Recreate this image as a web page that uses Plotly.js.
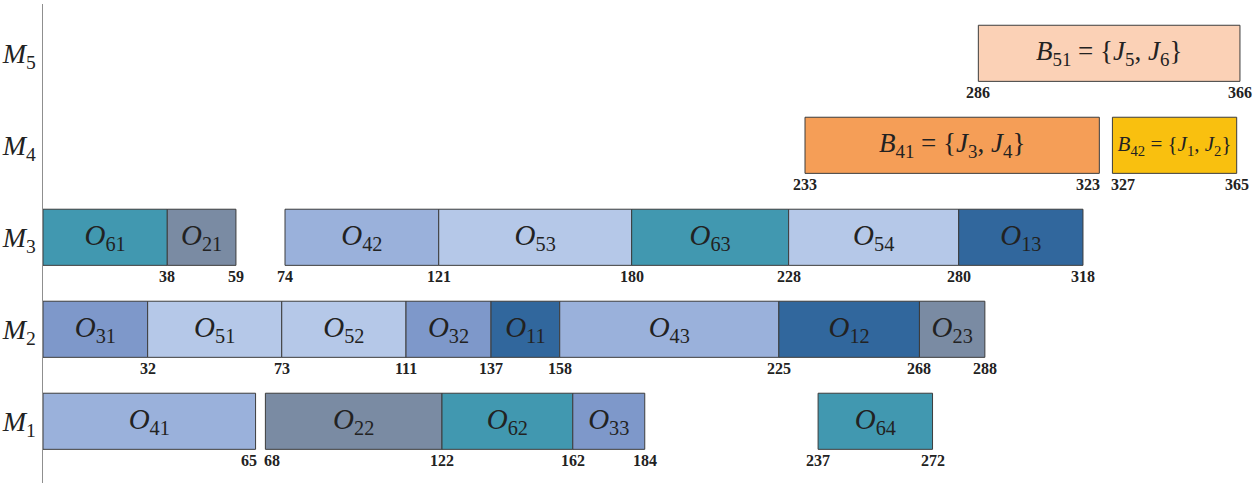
<!DOCTYPE html>
<html><head><meta charset="utf-8">
<script src="https://cdn.plot.ly/plotly-3.0.1.min.js"></script>
<style>html,body{margin:0;padding:0;background:#fff}#chart{width:1255px;height:486px}</style>
</head><body><div id="chart"></div>
<script>
const machines = [1, 2, 3, 4, 5];
const machineLabels = ['<i>M</i><sub>1</sub>', '<i>M</i><sub>2</sub>', '<i>M</i><sub>3</sub>', '<i>M</i><sub>4</sub>', '<i>M</i><sub>5</sub>'];

const opName    = ['41','22','62','33','64', '31','51','52','32','11','43','12','23', '61','21','42','53','63','54','13'];
const opMachine = [1,1,1,1,1, 2,2,2,2,2,2,2,2, 3,3,3,3,3,3,3];
const opStart   = [0,68,122,162,237, 0,32,73,111,137,158,225,268, 0,38,74,121,180,228,280];
const opEnd     = [65,122,162,184,272, 32,73,111,137,158,225,268,288, 38,59,121,180,228,280,318];

const batchName    = ['41', '42', '51'];
const batchMachine = [4, 4, 5];
const batchStart   = [233, 327, 286];
const batchEnd     = [323, 365, 366];
const batchJobs    = [[3, 4], [1, 2], [5, 6]];

const jobColors = {1: '#31679D', 2: '#7A8BA3', 3: '#7E98CA', 4: '#9AB1DB', 5: '#B5C8E8', 6: '#4198B0'};
const batchColors = ['#F59E57', '#F9C00F', '#FBD1B6'];
const batchFontSizes = [27, 21, 27];

const serif = 'Liberation Serif, Times New Roman, serif';
const BAR_W = 0.61;

const opTrace = {
  type: 'bar', orientation: 'h',
  y: opMachine,
  base: opStart,
  x: opStart.map((s, i) => opEnd[i] - s),
  width: BAR_W,
  marker: {color: opName.map(n => jobColors[+n[0]]), line: {color: '#3c3c3c', width: 1}},
  text: opName.map(n => '<i>O</i><sub>' + n + '</sub>'),
  textposition: 'inside', insidetextanchor: 'middle', constraintext: 'none', textangle: 0,
  textfont: {family: serif, size: 29, color: '#222'},
  hoverinfo: 'skip', showlegend: false, cliponaxis: false
};

const batchTrace = {
  type: 'bar', orientation: 'h',
  y: batchMachine,
  base: batchStart,
  x: batchStart.map((s, i) => batchEnd[i] - s),
  width: BAR_W,
  marker: {color: batchColors, line: {color: '#3c3c3c', width: 1}},
  text: batchName.map((n, i) => '<i>B</i><sub>' + n + '</sub> = {<i>J</i><sub>' + batchJobs[i][0] + '</sub>, <i>J</i><sub>' + batchJobs[i][1] + '</sub>}'),
  textposition: 'inside', insidetextanchor: 'middle', constraintext: 'none', textangle: 0,
  textfont: {family: serif, size: batchFontSizes, color: '#222'},
  hoverinfo: 'skip', showlegend: false, cliponaxis: false
};

// time labels under bars
const allM = opMachine.concat(batchMachine);
const allS = opStart.concat(batchStart);
const allE = opEnd.concat(batchEnd);
const annotations = [];
function addLabel(v, m, anchor) {
  annotations.push({
    x: v, y: m - BAR_W / 2, xref: 'x', yref: 'y',
    text: '<b>' + v + '</b>', showarrow: false,
    xanchor: anchor, yanchor: 'top', yshift: -1,
    xshift: anchor === 'right' ? 3 : (anchor === 'left' ? -3 : 0),
    font: {family: serif, size: 16, color: '#222'}
  });
}
allM.forEach((m, i) => {
  const e = allE[i], s = allS[i];
  const nextClose = allS.some((s2, j) => allM[j] === m && s2 > e && s2 - e < 10);
  addLabel(e, m, nextClose ? 'right' : 'center');
  const joined = allE.some((e2, j) => allM[j] === m && e2 === s);
  if (s !== 0 && !joined) {
    const prevClose = allE.some((e2, j) => allM[j] === m && e2 < s && s - e2 < 10);
    addLabel(s, m, prevClose ? 'left' : 'center');
  }
});

const layout = {
  width: 1255, height: 486,
  margin: {l: 43, r: 0, t: 4, b: 3},
  paper_bgcolor: '#fff', plot_bgcolor: '#fff',
  barmode: 'overlay', bargap: 0,
  xaxis: {range: [0, 370.6], showgrid: false, zeroline: false, showticklabels: false, ticks: '', showline: false},
  yaxis: {range: [0.329, 5.536], tickvals: machines, ticktext: machineLabels,
          showgrid: false, zeroline: false, ticks: '', showline: true, linecolor: '#8f8f8f', linewidth: 1.5,
          tickfont: {family: serif, size: 28, color: '#222'}, ticklabelstandoff: 0},
  annotations: annotations,
  showlegend: false
};

Plotly.newPlot('chart', [opTrace, batchTrace], layout, {displayModeBar: false, staticPlot: true});
</script></body></html>
